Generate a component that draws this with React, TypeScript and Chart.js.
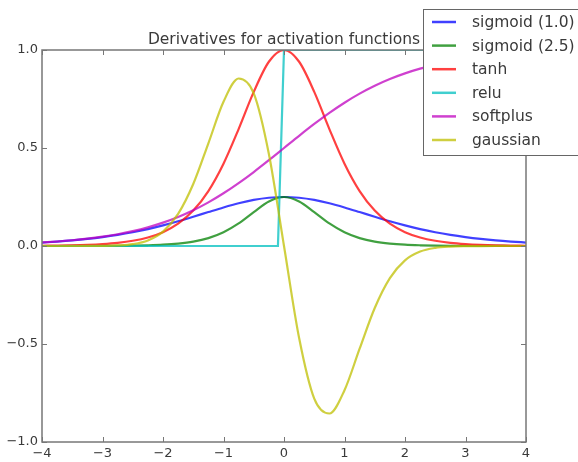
import React, { useEffect, useRef } from "react";
import { Chart, registerables } from "chart.js";

Chart.register(...registerables);

const TITLE = "Derivatives for activation functions";

const xs = [
  -4, -3.75, -3.5, -3.25, -3, -2.75, -2.5, -2.25, -2, -1.75, -1.5, -1.25, -1, -0.75, -0.5, -0.25,
  0, 0.25, 0.5, 0.75, 1, 1.25, 1.5, 1.75, 2, 2.25, 2.5, 2.75, 3, 3.25, 3.5, 3.75, 4,
];

const sigmoid10 = [
  0.0177, 0.0225, 0.0284, 0.0359, 0.0452, 0.0565, 0.0701, 0.0862, 0.105, 0.1261, 0.1491, 0.1731, 0.1966, 0.2179, 0.235, 0.2461,
  0.25, 0.2461, 0.235, 0.2179, 0.1966, 0.1731, 0.1491, 0.1261, 0.105, 0.0862, 0.0701, 0.0565, 0.0452, 0.0359, 0.0284, 0.0225, 0.0177,
];

const sigmoid25 = [
  0.0, 0.0001, 0.0002, 0.0003, 0.0006, 0.001, 0.0019, 0.0036, 0.0066, 0.0124, 0.0225, 0.0403, 0.0701, 0.1153, 0.1731, 0.2271,
  0.25, 0.2271, 0.1731, 0.1153, 0.0701, 0.0403, 0.0225, 0.0124, 0.0066, 0.0036, 0.0019, 0.001, 0.0006, 0.0003, 0.0002, 0.0001, 0.0,
];

const tanhD = [
  0.0013, 0.0022, 0.0036, 0.006, 0.0099, 0.0162, 0.0266, 0.0435, 0.0707, 0.1138, 0.1807, 0.2804, 0.42, 0.5966, 0.7864, 0.94,
  1.0, 0.94, 0.7864, 0.5966, 0.42, 0.2804, 0.1807, 0.1138, 0.0707, 0.0435, 0.0266, 0.0162, 0.0099, 0.006, 0.0036, 0.0022, 0.0013,
];

const reluXs = [-4, -0.1, 0, 4];
const reluD = [0, 0, 1, 1];

const softplusD = [
  0.018, 0.023, 0.0293, 0.0373, 0.0474, 0.0601, 0.0759, 0.0953, 0.1192, 0.148, 0.1824, 0.2227, 0.2689, 0.3208, 0.3775, 0.4378,
  0.5, 0.5622, 0.6225, 0.6792, 0.7311, 0.7773, 0.8176, 0.852, 0.8808, 0.9047, 0.9241, 0.9399, 0.9526, 0.9627, 0.9707, 0.977, 0.982,
];

const gaussianD = [
  0.0, 0.0, 0.0, 0.0002, 0.0007, 0.0029, 0.0097, 0.0285, 0.0733, 0.1637, 0.3162, 0.524, 0.7358, 0.8547, 0.7788, 0.4697,
  0.0, -0.4697, -0.7788, -0.8547, -0.7358, -0.524, -0.3162, -0.1637, -0.0733, -0.0285, -0.0097, -0.0029, -0.0007, -0.0002, 0.0, 0.0, 0.0,
];

const labels = ["sigmoid (1.0)", "sigmoid (2.5)", "tanh", "relu", "softplus", "gaussian"];
const colors = [
  "rgba(0,0,255,0.75)",
  "rgba(0,128,0,0.75)",
  "rgba(255,0,0,0.75)",
  "rgba(0,191,191,0.75)",
  "rgba(191,0,191,0.75)",
  "rgba(191,191,0,0.75)",
];

const SPINE = "#777777";
const TEXT = "#3a3a3a";
const FONT = '"DejaVu Sans", sans-serif';

const toPts = (x: number[], y: number[]) => x.map((v, i) => ({ x: v, y: y[i] }));
const fmt = (s: string) => s.replace("-", "\u2212");

const decorPlugin = {
  id: "decor",
  afterDatasetsDraw(chart: any) {
    const { ctx, chartArea: a, scales } = chart;
    ctx.save();
    // frame
    ctx.strokeStyle = SPINE;
    ctx.lineWidth = 1.5;
    ctx.strokeRect(a.left, a.top, a.right - a.left, a.bottom - a.top);
    // inward ticks on all sides
    ctx.lineWidth = 1;
    ctx.beginPath();
    const tl = 5;
    scales.x.ticks.forEach((t: any) => {
      const px = Math.round(scales.x.getPixelForValue(t.value)) + 0.5;
      ctx.moveTo(px, a.bottom);
      ctx.lineTo(px, a.bottom - tl);
      ctx.moveTo(px, a.top);
      ctx.lineTo(px, a.top + tl);
    });
    scales.y.ticks.forEach((t: any) => {
      const py = Math.round(scales.y.getPixelForValue(t.value)) + 0.5;
      ctx.moveTo(a.left, py);
      ctx.lineTo(a.left + tl, py);
      ctx.moveTo(a.right, py);
      ctx.lineTo(a.right - tl, py);
    });
    ctx.stroke();
    // title
    ctx.fillStyle = TEXT;
    ctx.font = `15.5px ${FONT}`;
    ctx.textAlign = "center";
    ctx.textBaseline = "alphabetic";
    ctx.fillText(TITLE, (a.left + a.right) / 2, a.top - 6);
    // legend
    const bx = 423, by = 9, bw = 200, bh = 146;
    ctx.fillStyle = "#ffffff";
    ctx.fillRect(bx, by, bw, bh);
    ctx.strokeStyle = "#666666";
    ctx.lineWidth = 1;
    ctx.strokeRect(bx + 0.5, by + 0.5, bw, bh);
    ctx.font = `15.5px ${FONT}`;
    ctx.textAlign = "left";
    ctx.textBaseline = "middle";
    chart.data.datasets.forEach((ds: any, i: number) => {
      const y = 22 + i * 23.6;
      ctx.strokeStyle = ds.borderColor;
      ctx.lineWidth = 2.5;
      ctx.beginPath();
      ctx.moveTo(432, y);
      ctx.lineTo(456, y);
      ctx.stroke();
      ctx.fillStyle = TEXT;
      ctx.fillText(ds.label, 472, y + 1);
    });
    ctx.restore();
  },
};

export default function App() {
  const ref = useRef<HTMLCanvasElement | null>(null);
  useEffect(() => {
    if (!ref.current) return;
    const series = [
      toPts(xs, sigmoid10),
      toPts(xs, sigmoid25),
      toPts(xs, tanhD),
      toPts(reluXs, reluD),
      toPts(xs, softplusD),
      toPts(xs, gaussianD),
    ];
    const chart = new Chart(ref.current, {
      type: "line",
      data: {
        datasets: series.map((d, i) => ({
          label: labels[i],
          data: d,
          borderColor: colors[i],
          backgroundColor: colors[i],
          borderWidth: 2.2,
          pointRadius: 0,
          fill: false,
          cubicInterpolationMode: i === 3 ? "default" : "monotone",
          tension: 0,
          order: 5 - i,
          clip: 0,
        })),
      },
      options: {
        animation: false,
        responsive: false,
        maintainAspectRatio: false,
        layout: { padding: { left: 0, right: 52, top: 50, bottom: 0 } },
        plugins: { legend: { display: false }, tooltip: { enabled: false }, title: { display: false } },
        scales: {
          x: {
            type: "linear",
            min: -4,
            max: 4,
            grid: { display: false, drawTicks: false },
            border: { display: false },
            ticks: {
              stepSize: 1,
              padding: 4,
              color: TEXT,
              font: { family: FONT, size: 13 },
              maxRotation: 0,
              callback: (v: any) => fmt(String(v)),
            },
            afterFit: (s: any) => {
              s.height = 20;
            },
          },
          y: {
            min: -1,
            max: 1,
            grid: { display: false, drawTicks: false },
            border: { display: false },
            ticks: {
              stepSize: 0.5,
              padding: 4,
              color: TEXT,
              font: { family: FONT, size: 13 },
              callback: (v: any) => fmt(Number(v).toFixed(1)),
            },
            afterFit: (s: any) => {
              s.width = 42;
            },
          },
        },
      },
      plugins: [decorPlugin],
    } as any);
    return () => chart.destroy();
  }, []);
  return (
    <div style={{ position: "fixed", left: 0, top: 0, width: 578, height: 462, background: "#fff" }}>
      <canvas ref={ref} width={578} height={462} style={{ display: "block", width: 578, height: 462 }} />
    </div>
  );
}
